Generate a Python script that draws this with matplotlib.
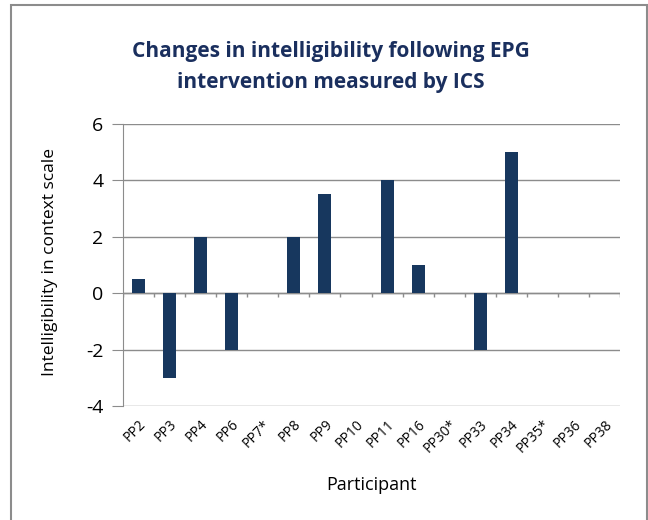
import numpy as np
import matplotlib.pyplot as plt
from matplotlib.patches import Rectangle

participants = ['PP2', 'PP3', 'PP4', 'PP6', 'PP7*', 'PP8', 'PP9', 'PP10',
                'PP11', 'PP16', 'PP30*', 'PP33', 'PP34', 'PP35*', 'PP36', 'PP38']
ics_change = [0.5, -3, 2, -2, 0, 2, 3.5, 0, 4, 1, 0, -2, 5, 0, 0, 0]
y_ticks = [-4, -2, 0, 2, 4, 6]

plt.rcParams['font.family'] = ['Open Sans', 'DejaVu Sans']

fig = plt.figure(figsize=(6.48, 5.2), dpi=100)
# outer chart frame (bottom edge falls off the picture)
fig.patches.append(Rectangle((11 / 648, -10 / 520), 636 / 648, 525 / 520,
                             transform=fig.transFigure, fill=False,
                             edgecolor='#8c8c8c', linewidth=1.5))
ax = fig.add_axes([123 / 648, 1 - 406 / 520, 497 / 648, 282 / 520])

x = np.arange(len(participants))
ax.bar(x, ics_change, width=0.42, color='#17375e', linewidth=0, zorder=3)

ax.set_xlim(-0.5, len(participants) - 0.5)
ax.set_ylim(-4, 6)
ax.set_yticks(y_ticks)
ax.set_yticklabels([str(t) for t in y_ticks], fontsize=14)
ax.yaxis.grid(True, color='#8c8c8c', linewidth=1)
ax.tick_params(axis='y', length=8, color='#8c8c8c', pad=6)

# category axis sits on zero
ax.axhline(0, color='#8c8c8c', linewidth=1, zorder=2)
bounds = np.arange(len(participants) + 1) - 0.5
ax.vlines(bounds, 0, -0.15, color='#8c8c8c', linewidth=1, zorder=2)

ax.set_xticks(x)
ax.set_xticklabels(participants, rotation=45, ha='right', rotation_mode='anchor', fontsize=10)
ax.tick_params(axis='x', length=0, pad=8)

for s in ['top', 'right', 'bottom']:
    ax.spines[s].set_visible(False)
ax.spines['left'].set_color('#8c8c8c')

ax.set_xlabel('Participant', fontsize=13, labelpad=14)
ax.set_ylabel('Intelligibility in context scale', fontsize=12.5)
ax.yaxis.set_label_coords(-0.131, 0.51)
fig.text(0.51, 1 - 67 / 520, 'Changes in intelligibility following EPG\nintervention measured by ICS',
         ha='center', va='center', fontsize=15, fontweight='bold', color='#1a2f5e',
         linespacing=1.65)

fig.savefig('out.png', dpi=100)
